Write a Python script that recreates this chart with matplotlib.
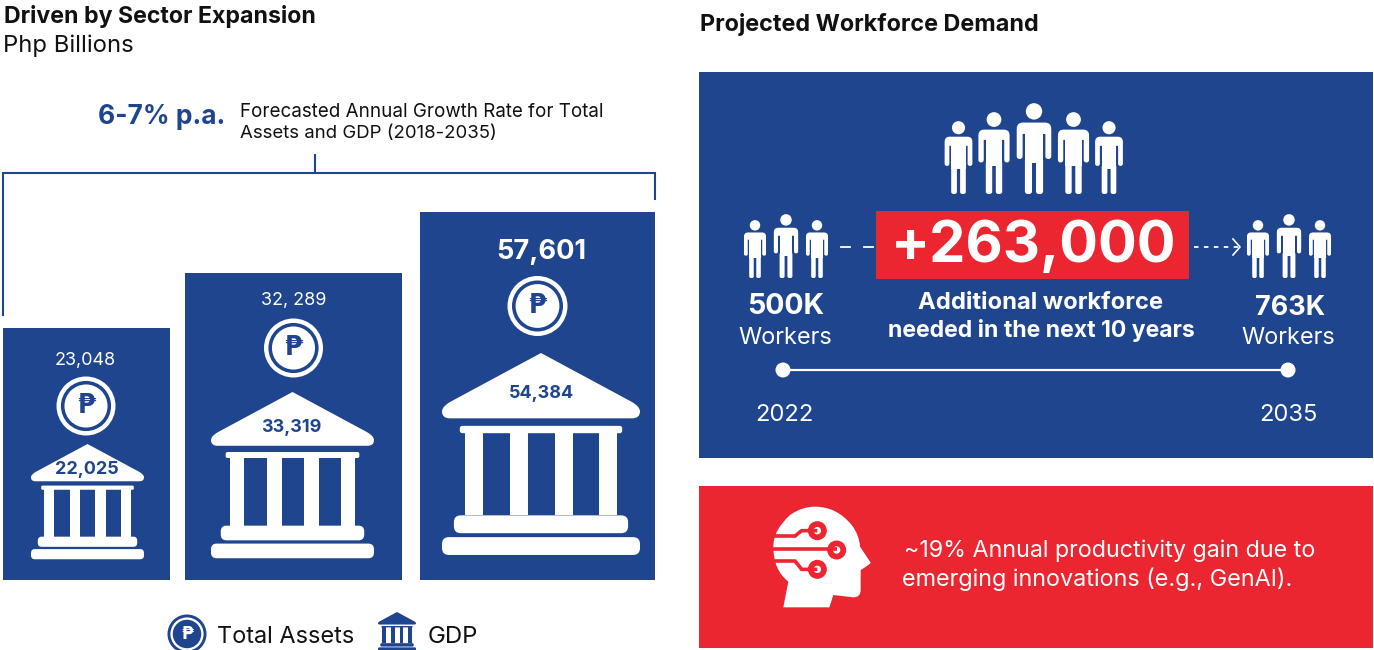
import matplotlib
matplotlib.use('Agg')
import matplotlib.pyplot as plt
from matplotlib.patches import Circle, FancyBboxPatch, PathPatch, Rectangle
from matplotlib.path import Path

plt.rcParams['font.family'] = ['Inter', 'DejaVu Sans']

BLUE = '#1f458e'
RED = '#ec2631'
WHITE = '#ffffff'
BLACK = '#111111'

# sector expansion figures, Php billions
total_assets = ['23,048', '32, 289', '57,601']
gdp = ['22,025', '33,319', '54,384']
legend_labels = ['Total Assets', 'GDP']

# workforce figures
workers_start = '500K'
workers_end = '763K'
workers_added = '+263,000'
years = ['2022', '2035']

# layout of the three panels on the left: x0, x1, y top
panel_x0 = [3, 185, 420]
panel_x1 = [170, 402, 655]
panel_top = [328, 273, 212]
PANEL_BOTTOM = 580

fig = plt.figure(figsize=(13.74, 6.5), dpi=100)
ax = fig.add_axes([0, 0, 1, 1])
ax.set_xlim(0, 1374)
ax.set_ylim(650, 0)
ax.axis('off')


def txt(x, y, s, size, color=BLACK, weight='normal', ha='left'):
    # size is given in pixels, y nudged because Inter sits high when centred
    ax.text(x, y + 2, s, fontsize=size * 0.72, color=color, fontweight=weight,
            ha=ha, va='center')


def rect(x0, y0, x1, y1, color):
    ax.add_patch(Rectangle((x0, y0), x1 - x0, y1 - y0, fc=color, ec='none'))


def rrect(x0, y0, x1, y1, r, color):
    ax.add_patch(FancyBboxPatch((x0 + r, y0 + r), x1 - x0 - 2 * r, y1 - y0 - 2 * r,
                                boxstyle='round,pad=%f,rounding_size=%f' % (r, r),
                                fc=color, ec='none'))


def shape(points, codes, color):
    ax.add_patch(PathPatch(Path(points, codes), fc=color, ec='none'))


def coin(cx, cy, r, fg, bg, sign_size):
    ax.add_patch(Circle((cx, cy), r, fc=fg, ec='none'))
    ax.add_patch(Circle((cx, cy), r * 0.85, fc=bg, ec='none'))
    ax.add_patch(Circle((cx, cy), r * 0.73, fc=fg, ec='none'))
    ax.text(cx, cy, '\u20b1', fontsize=sign_size * 0.72, color=bg, fontweight='bold',
            family='DejaVu Sans', ha='center', va='center')


def bank(cx, top, w, fg, bg):
    # proportions taken with the full roof width as 1
    def X(u):
        return cx + u * w

    def Y(v):
        return top + v * w
    M, L, C = Path.MOVETO, Path.LINETO, Path.CURVE3
    shape([(X(0), Y(0)), (X(0.455), Y(0.245)), (X(0.5), Y(0.27)), (X(0.5), Y(0.295)),
           (X(0.5), Y(0.33)), (X(0.46), Y(0.33)), (X(-0.46), Y(0.33)),
           (X(-0.5), Y(0.33)), (X(-0.5), Y(0.295)), (X(-0.5), Y(0.27)), (X(-0.455), Y(0.245)),
           (X(0), Y(0))],
          [M, L, C, C, C, C, L, C, C, C, C, L], fg)
    rrect(X(-0.41), Y(0.368), X(0.41), Y(0.405), 0.012 * w, fg)
    for a, b in [(-0.385, -0.295), (-0.155, -0.065), (0.07, 0.16), (0.295, 0.385)]:
        rect(X(a), Y(0.4), X(b), Y(0.82), fg)
    rrect(X(-0.44), Y(0.82), X(0.44), Y(0.91), 0.035 * w, fg)
    rrect(X(-0.5), Y(0.93), X(0.5), Y(1.02), 0.035 * w, fg)


def person(cx, top, feet, color):
    h = feet - top

    def X(u):
        return cx + u * h

    def Y(v):
        return top + v * h
    ax.add_patch(Circle((cx, Y(0.092)), 0.09 * h, fc=color, ec='none'))
    rrect(X(-0.19), Y(0.215), X(0.19), Y(0.34), 0.07 * h, color)
    rrect(X(-0.19), Y(0.27), X(-0.125), Y(0.615), 0.03 * h, color)
    rrect(X(0.125), Y(0.27), X(0.19), Y(0.615), 0.03 * h, color)
    rect(X(-0.1), Y(0.27), X(0.1), Y(0.66), color)
    rrect(X(-0.1), Y(0.6), X(-0.022), Y(1.0), 0.03 * h, color)
    rrect(X(0.022), Y(0.6), X(0.1), Y(1.0), 0.03 * h, color)


# left side headings
txt(4, 15, 'Driven by Sector Expansion', 23.1, weight='bold')
txt(3, 44, 'Php Billions', 23.8)
txt(98, 115, '6-7% p.a.', 26.4, BLUE, 'bold')
txt(240, 110, 'Forecasted Annual Growth Rate for Total', 18.8)
txt(240, 132, 'Assets and GDP (2018-2035)', 18.6)

# bracket over the panels
ax.plot([3, 3, 655, 655], [315, 172.5, 172.5, 199], color=BLUE, lw=1.5, solid_joinstyle='miter')
ax.plot([315, 315], [155, 172.5], color=BLUE, lw=1.5)

# panels with coin and bank icons
text_x = [85.5, 294, 541.5]
coin_x = [86, 293.5, 537.5]
coin_y = [406, 348, 306]
coin_r = [29.5, 29.5, 30]
value_y = [358, 299, 250]
value_size = [18, 18, 27.2]
value_weight = ['normal', 'normal', 'bold']
bank_x = [87.5, 292.5, 541]
bank_top = [444, 392, 353]
bank_w = [113, 163, 198]
gdp_y = [467, 425, 392]
gdp_x = [87, 291, 541]
for i in range(3):
    rect(panel_x0[i], panel_top[i], panel_x1[i], PANEL_BOTTOM, BLUE)
    txt(text_x[i], value_y[i], total_assets[i], value_size[i], WHITE, value_weight[i], 'center')
    coin(coin_x[i], coin_y[i], coin_r[i], WHITE, BLUE, 26)
    bank(bank_x[i], bank_top[i], bank_w[i], WHITE, BLUE)
    txt(gdp_x[i], gdp_y[i], gdp[i], 18, BLUE, 'bold', 'center')

# legend
coin(187, 634, 19.5, BLUE, WHITE, 17)
txt(217, 635, legend_labels[0], 23.5)
bank(397, 612, 38, BLUE, WHITE)
txt(428, 635, legend_labels[1], 24)

# right side
txt(700, 22, 'Projected Workforce Demand', 23.4, weight='bold')
rect(699, 72, 1373, 458, BLUE)
rect(699, 486, 1373, 648, RED)

for cx, top in zip([958.5, 994, 1034, 1073.5, 1109], [121, 112, 103, 112, 121]):
    person(cx, top, 194, WHITE)
for cx, top in zip([755, 786, 817], [220, 214, 220]):
    person(cx, top, 278, WHITE)
for cx, top in zip([1258, 1289, 1320], [220, 214, 220]):
    person(cx, top, 278, WHITE)

# connectors either side of the headline figure
ax.plot([841, 850], [247, 247], color=WHITE, lw=1.3)
ax.plot([864, 873], [247, 247], color=WHITE, lw=1.3)
ax.plot([1194, 1238], [247, 247], color=WHITE, lw=1.3, dashes=(2.5, 3))
ax.plot([1233, 1240, 1233], [239, 247, 255], color=WHITE, lw=1.2)

rect(876, 211, 1189, 279, RED)
txt(1033.5, 245, workers_added, 57.6, WHITE, 'bold', 'center')
txt(1041, 301, 'Additional workforce', 23.8, WHITE, 'bold', 'center')
txt(1041, 329, 'needed in the next 10 years', 23, WHITE, 'bold', 'center')

txt(786, 305, workers_start, 28.5, WHITE, 'bold', 'center')
txt(785.5, 336, 'Workers', 23.5, WHITE, ha='center')
txt(1290, 306, workers_end, 27, WHITE, 'bold', 'center')
txt(1288, 336, 'Workers', 23.5, WHITE, ha='center')

# timeline
ax.plot([783, 1288], [370, 370], color=WHITE, lw=1.6)
ax.add_patch(Circle((783, 370), 7.5, fc=WHITE, ec='none'))
ax.add_patch(Circle((1288, 370), 7.5, fc=WHITE, ec='none'))
txt(784, 413, years[0], 23.7, WHITE, ha='center')
txt(1288, 413, years[1], 23.7, WHITE, ha='center')

# head with circuit traces
M, L, C = Path.MOVETO, Path.LINETO, Path.CURVE3


def hx(u):
    return 740 + u / 3


def hy(v):
    return 490 + v / 3


head = [(100, 170), (100, 120), (150, 75), (185, 50), (225, 50), (290, 50), (335, 105),
        (358, 135), (360, 170), (392, 218), (392, 222), (362, 240), (362, 300),
        (362, 322), (340, 322), (280, 315), (268, 352), (130, 352), (145, 275),
        (100, 240), (100, 170)]
head_codes = [M, C, C, C, C, C, C, C, C, L, C, C, L, C, C, L, L, L, L, C, C]
shape([(hx(a), hy(b)) for a, b in head], head_codes, WHITE)


def trace(pts):
    ax.plot([hx(a) for a, b in pts], [hy(b) for a, b in pts], color=RED, lw=2.6,
            solid_capstyle='butt', solid_joinstyle='miter')


trace([(95, 138), (165, 138), (185, 122), (232, 122)])
trace([(95, 178), (290, 178)])
trace([(95, 213), (165, 213), (185, 238), (232, 238)])
for a, b in [(232, 122), (290, 180), (232, 238)]:
    ax.add_patch(Circle((hx(a), hy(b)), 9.5, fc=RED, ec='none'))
    ax.add_patch(Circle((hx(a), hy(b)), 3.7, fc=WHITE, ec='none'))

txt(904, 549, '~19% Annual productivity gain due to', 23.3, WHITE)
txt(902, 577, 'emerging innovations (e.g., GenAI).', 23.4, WHITE)

fig.savefig('out.png', dpi=100)
